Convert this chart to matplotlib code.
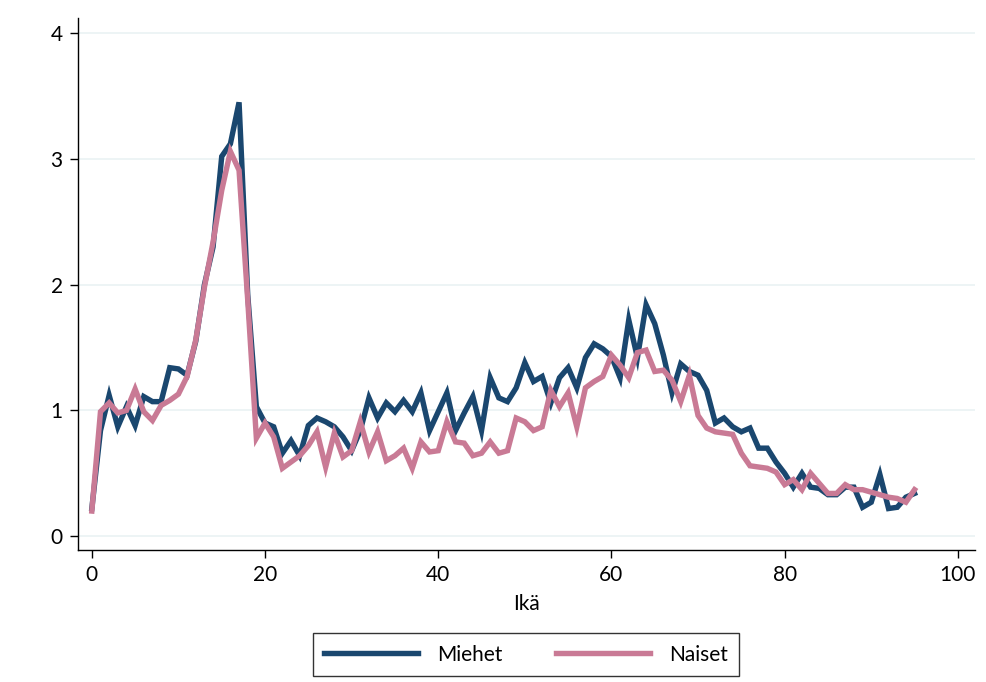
import numpy as np
import matplotlib
matplotlib.use('Agg')
import matplotlib.pyplot as plt

# data
ika = list(range(0, 96))
miehet = [0.22, 0.84, 1.12, 0.87, 1.03, 0.88, 1.11, 1.07, 1.07, 1.34,
          1.33, 1.28, 1.55, 2.00, 2.30, 3.02, 3.12, 3.45, 1.92, 1.03,
          0.90, 0.87, 0.66, 0.76, 0.64, 0.88, 0.94, 0.91, 0.87, 0.79,
          0.68, 0.84, 1.10, 0.94, 1.06, 0.99, 1.08, 0.99, 1.14, 0.84,
          0.99, 1.14, 0.84, 0.98, 1.11, 0.84, 1.26, 1.10, 1.07, 1.18,
          1.38, 1.23, 1.27, 1.06, 1.26, 1.34, 1.18, 1.42, 1.53, 1.49,
          1.43, 1.26, 1.72, 1.42, 1.84, 1.69, 1.44, 1.14, 1.37, 1.31,
          1.28, 1.16, 0.90, 0.94, 0.87, 0.83, 0.86, 0.70, 0.70, 0.59,
          0.50, 0.39, 0.50, 0.39, 0.38, 0.33, 0.33, 0.39, 0.39, 0.23,
          0.27, 0.49, 0.22, 0.23, 0.31, 0.34]
naiset = [0.20, 0.99, 1.06, 0.98, 1.00, 1.17, 0.99, 0.92, 1.04, 1.08,
          1.13, 1.27, 1.56, 1.98, 2.34, 2.75, 3.06, 2.91, 1.88, 0.78,
          0.90, 0.79, 0.54, 0.59, 0.64, 0.72, 0.83, 0.55, 0.82, 0.63,
          0.68, 0.91, 0.67, 0.83, 0.60, 0.64, 0.70, 0.54, 0.75, 0.67,
          0.68, 0.91, 0.75, 0.74, 0.64, 0.66, 0.75, 0.66, 0.68, 0.94,
          0.91, 0.84, 0.87, 1.16, 1.03, 1.14, 0.87, 1.18, 1.23, 1.27,
          1.44, 1.36, 1.26, 1.46, 1.48, 1.31, 1.32, 1.24, 1.07, 1.28,
          0.96, 0.86, 0.83, 0.82, 0.81, 0.66, 0.56, 0.55, 0.54, 0.51,
          0.41, 0.45, 0.37, 0.50, 0.42, 0.34, 0.34, 0.41, 0.37, 0.37,
          0.35, 0.33, 0.31, 0.30, 0.27, 0.37]
x_ticks = [0, 20, 40, 60, 80, 100]
y_ticks = [0, 1, 2, 3, 4]

plt.rcParams['font.family'] = ['Lato', 'DejaVu Sans']

fig = plt.figure(figsize=(9.87, 6.82), dpi=100)
ax = fig.add_axes([0.079, 0.1935, 0.909, 0.78])

ax.plot(ika, miehet, color='#1a476f', lw=3.9, label='Miehet', solid_joinstyle='miter')
ax.plot(ika, naiset, color='#c97a95', lw=3.9, label='Naiset', solid_joinstyle='miter')

ax.set_xlim(-1.6, 102)
ax.set_ylim(-0.11, 4.12)
ax.set_xticks(x_ticks)
ax.set_yticks(y_ticks)
ax.tick_params(labelsize=15, length=6, width=1, colors='black', pad=5)
ax.grid(axis='y', color='#eaf2f3', lw=1.2)
ax.set_axisbelow(True)
for s in ['top', 'right']:
    ax.spines[s].set_visible(False)
ax.spines['left'].set_linewidth(1)
ax.spines['bottom'].set_linewidth(1)
ax.set_xlabel('Ikä', fontsize=15, labelpad=6)

leg = fig.legend(loc='center', bbox_to_anchor=(0.533, 0.04), ncol=2, fontsize=15,
                 frameon=True, fancybox=False, edgecolor='black', handlelength=4.5,
                 columnspacing=2.6, borderpad=0.55, handletextpad=0.9)
leg.get_frame().set_linewidth(1)

fig.savefig('out.png', dpi=100)
